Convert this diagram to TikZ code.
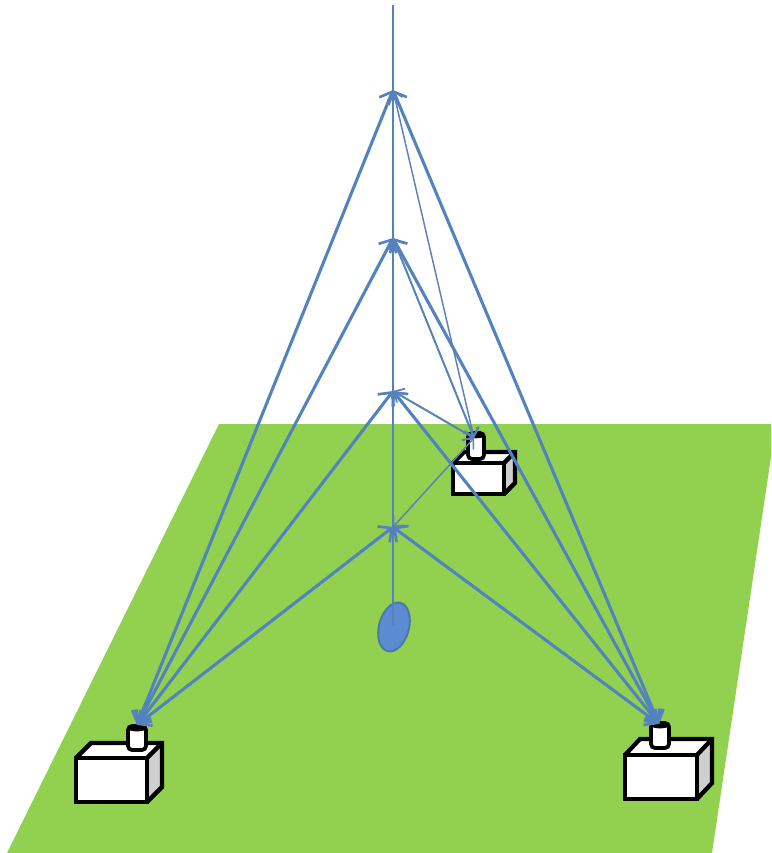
\documentclass[tikz,border=0pt]{standalone}
\usetikzlibrary{arrows.meta,shapes.geometric}
\definecolor{lawn}{HTML}{92D050}
\definecolor{beam}{HTML}{5482BE}
\definecolor{spot}{HTML}{5B8BD0}
\definecolor{spotedge}{HTML}{4A78A8}
\definecolor{sidegray}{HTML}{CFCFCF}
\tikzset{
  x=0.75pt,y=-0.75pt,
  outline/.style={draw=black,line width=3.2pt,line join=miter},
  ray/.style={draw=beam,line width=2.3pt,{Straight Barb[length=7.5pt,width=15pt,line width=2pt]}-{Straight Barb[length=7.5pt,width=15pt,line width=2pt]}},
  midray/.style={draw=beam!90!gray,line width=1.5pt,{Straight Barb[length=6pt,width=12pt,line width=1.3pt]}-{Straight Barb[length=6pt,width=12pt,line width=1.3pt]}},
  thinray/.style={draw=beam!85!gray,line width=1.1pt,{Straight Barb[length=6pt,width=11pt,line width=1.1pt]}-{Straight Barb[length=6pt,width=11pt,line width=1.1pt]}},
}
% Box drawn in oblique projection:
% front left, front top, front right, front bottom, depth dx, depth dy
\newcommand{\unitbox}[6]{%
  \fill[sidegray] (#3,#2) -- ++(#5,-#6) -- ++(0,#4-#2) -- (#3,#4) -- cycle;
  \fill[white] (#1,#2) rectangle (#3,#4);
  \fill[white] (#1,#2) -- ++(#5,-#6) -- ++(#3-#1,0) -- (#3,#2) -- cycle;
  \draw[outline] (#1,#2) rectangle (#3,#4);
  \draw[outline] (#1,#2) -- ++(#5,-#6) -- ++(#3-#1,0) -- ++(0,#4-#2) -- (#3,#4);
  \draw[outline] (#3,#2) -- ++(#5,-#6);
}
% Small cylinder: left, right, top, bottom
\newcommand{\mast}[4]{%
  \filldraw[fill=white,draw=black,line width=2.8pt,rounded corners=3pt]
    (#1,#3) rectangle (#2,#4);
  \draw[black,line width=2.4pt] ({#1},{#3+1.5}) .. controls ({#1+3},{#3+4.5}) and ({#2-3},{#3+4.5}) .. ({#2},{#3+1.5});
}
\begin{document}
\begin{tikzpicture}
\useasboundingbox (0,0) rectangle (771,853);
% ground plane
\fill[lawn] (219,424) -- (771,424) -- (771,457) -- (712,853) -- (7,853) -- cycle;

% equipment
\unitbox{76}{758}{147}{802}{15}{15}
\mast{128}{146}{726}{750}
\unitbox{625}{755}{697}{799}{15}{16}
\mast{651}{669}{723}{748}
\unitbox{453}{463}{504}{494}{11}{11}
\mast{468}{484}{433}{459}

% points of the vertical axis and the sensor tips
\coordinate (top) at (393,5);
\coordinate (a) at (393,90);
\coordinate (b) at (393,238);
\coordinate (c) at (393,391);
\coordinate (d) at (393,527);
\coordinate (base) at (393,625);
\coordinate (L) at (137,725);
\coordinate (R) at (659,724);
\coordinate (M) at (474,438);

% footprint on the ground
\node[ellipse,draw=spotedge,fill=spot,line width=1.4pt,minimum width=37.5pt,minimum height=22.5pt,inner sep=0pt,rotate=75] (foot) at (394,627) {};
\draw[beam,line width=1.1pt] (top) -- (base);

% rays between the axis and the sensors
\foreach \p in {a,b,c,d} {
  \draw[ray] (L) -- (\p);
  \draw[ray] (R) -- (\p);
}
\draw[thinray] (M) -- (a);
\draw[midray] (M) -- (b);
\draw[midray] (M) -- (c);
\draw[thinray] (M) -- (d);
\end{tikzpicture}
\end{document}
